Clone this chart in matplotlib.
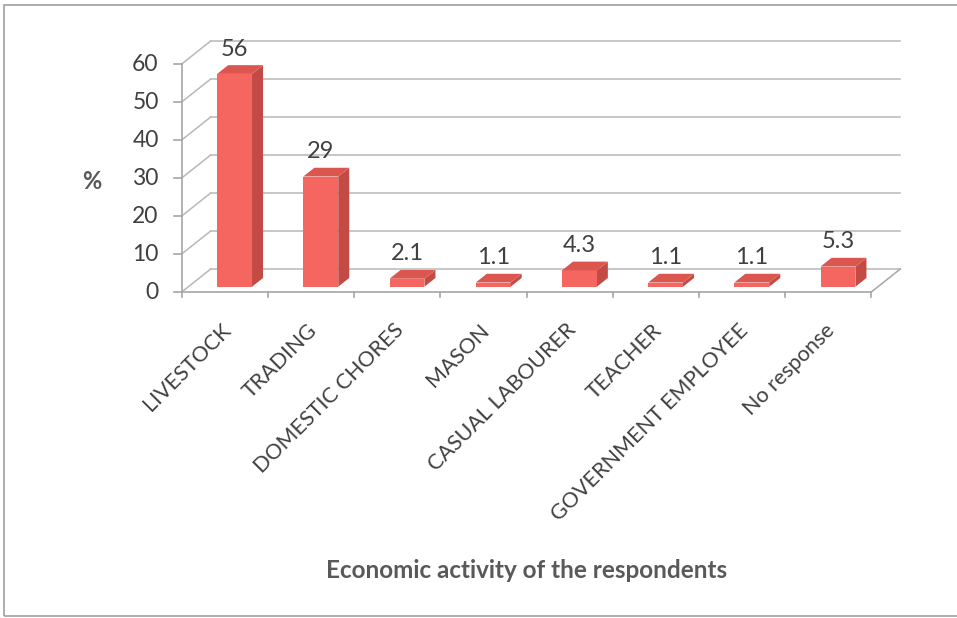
import matplotlib.pyplot as plt
from matplotlib.patches import Polygon, Rectangle

# Economic activity of the respondents (% of sample)
categories = ["LIVESTOCK", "TRADING", "DOMESTIC CHORES", "MASON",
              "CASUAL LABOURER", "TEACHER", "GOVERNMENT EMPLOYEE", "No response"]
values = [56, 29, 2.1, 1.1, 4.3, 1.1, 1.1, 5.3]
y_ticks = [0, 10, 20, 30, 40, 50, 60]

plt.rcParams['font.family'] = ['Lato', 'DejaVu Sans']

W, H = 957, 618
fig = plt.figure(figsize=(W / 100, H / 100), dpi=100)
ax = fig.add_axes([0, 0, 1, 1])
ax.set_axis_off()

# pixel layout of the fake 3d box: x in category units, y in percent
x0_px, y0_px = 181.7, 292.0
px_per_cat, px_per_pct = 86.2, 3.8
ax.set_xlim(-x0_px / px_per_cat, (W - x0_px) / px_per_cat)
ax.set_ylim(-(H - y0_px) / px_per_pct, y0_px / px_per_pct)

DX = 29 / px_per_cat     # depth offset, x
DY = 23 / px_per_pct     # depth offset, y
n = len(categories)
ymax = y_ticks[-1]

grid_c = '#b8b8b8'
axis_c = '#a6a6a6'
txt_c = '#404040'

# back wall gridlines and side wall diagonals
for t in y_ticks:
    ax.plot([DX, n + DX], [t + DY, t + DY], color=grid_c, lw=1.1, zorder=1)
    ax.plot([0, DX], [t, t + DY], color=grid_c, lw=1.1, zorder=1)

# floor edges
ax.plot([0, n], [0, 0], color=axis_c, lw=1.2, zorder=2)
ax.plot([n, n + DX], [0, DY], color=axis_c, lw=1.1, zorder=2)
for k in range(n + 1):
    ax.plot([k, k], [0, -5 / px_per_pct], color=axis_c, lw=1.2, zorder=2)

# vertical axis with ticks
ax.plot([0, 0], [0, ymax], color=axis_c, lw=1.2, zorder=2)
for t in y_ticks:
    ax.plot([-8 / px_per_cat, 0], [t, t], color=axis_c, lw=1.2, zorder=2)
    ax.text(-23 / px_per_cat, t, str(t), ha='right', va='center',
            fontsize=16.5, color=txt_c)

# 3d bars
front_c, top_c, side_c = '#f4665f', '#dc5650', '#c44a45'
bw = 0.405
f1, f2 = 0.23, 0.61
for i, v in enumerate(values):
    cx = i + 0.536
    xl, xr = cx - bw / 2 + f1 * DX, cx + bw / 2 + f1 * DX
    yb = f1 * DY
    ddx, ddy = (f2 - f1) * DX, (f2 - f1) * DY
    front = [(xl, yb), (xr, yb), (xr, yb + v), (xl, yb + v)]
    top = [(xl, yb + v), (xr, yb + v), (xr + ddx, yb + v + ddy), (xl + ddx, yb + v + ddy)]
    side = [(xr, yb), (xr + ddx, yb + ddy), (xr + ddx, yb + v + ddy), (xr, yb + v)]
    ax.add_patch(Polygon(side, closed=True, fc=side_c, ec='none', zorder=3))
    ax.add_patch(Polygon(front, closed=True, fc=front_c, ec='none', zorder=4))
    ax.add_patch(Polygon(top, closed=True, fc=top_c, ec='none', zorder=4))
    lab = f"{v:g}"
    ax.text((xl + xr) / 2, v + f2 * DY + 16 / px_per_pct, lab, ha='center',
            va='center', fontsize=17, color=txt_c, zorder=5)

# category labels
for i, name in enumerate(categories):
    ax.text(i + 0.5 - 4 / px_per_cat, -28 / px_per_pct, name, rotation=45,
            rotation_mode='anchor', ha='right', va='top', fontsize=15.5,
            color=txt_c)

fig.text(91.5 / W, 1 - 181.5 / H, '%', ha='center', va='center',
         fontsize=17, fontweight='bold', color='#595959')
fig.text(527 / W, 1 - 570 / H, 'Economic activity of the respondents',
         ha='center', va='center', fontsize=17.5, fontweight='bold', color='#595959')

# chart frame
fig.add_artist(Rectangle((4 / W, 1 - 616 / H), 1.0, (616 - 5) / H,
                         transform=fig.transFigure, fill=False,
                         ec='#a0a0a0', lw=1.2))

fig.savefig('out.png', dpi=100)
